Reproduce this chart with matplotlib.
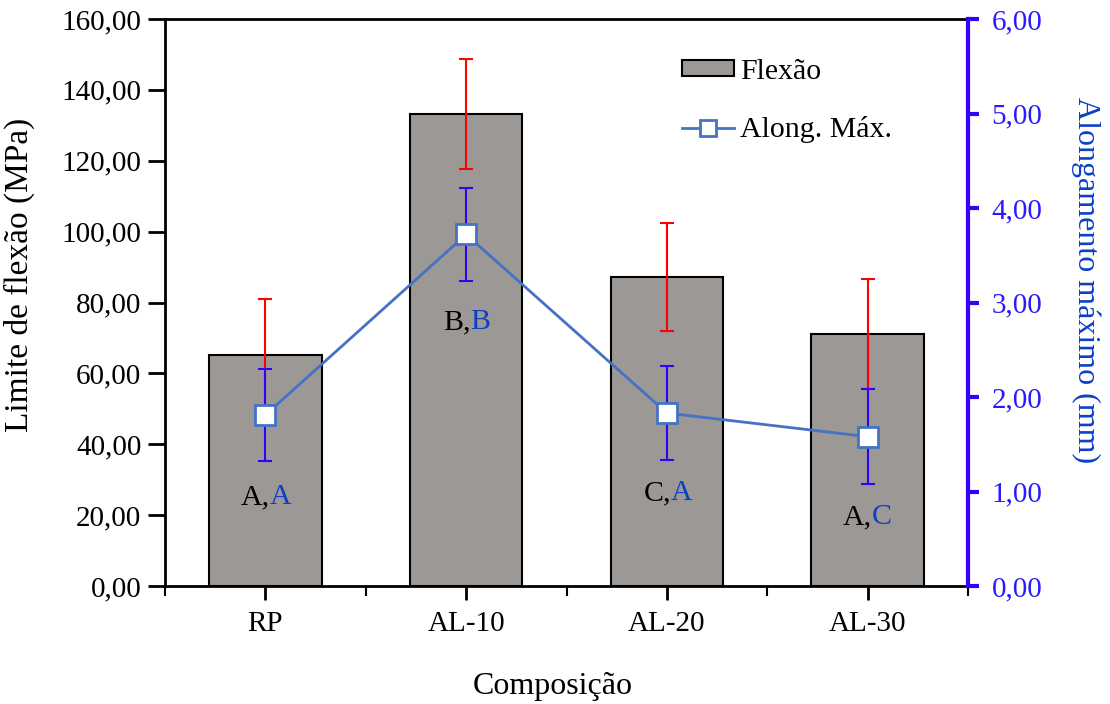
import matplotlib
matplotlib.use("Agg")
import matplotlib.pyplot as plt
from matplotlib.ticker import FuncFormatter, MultipleLocator, FixedLocator
from matplotlib.patches import Patch
from matplotlib.lines import Line2D

plt.rcParams['font.family'] = ['Liberation Serif', 'DejaVu Serif']

categories = ["RP", "AL-10", "AL-20", "AL-30"]
flexao = [65.2, 133.2, 87.2, 71.1]
flexao_err = [15.8, 15.5, 15.2, 15.4]
along = [1.81, 3.72, 1.83, 1.58]
along_err = [0.49, 0.49, 0.50, 0.50]
letters_flex = ["A,", "B,", "C,", "A,"]
letters_along = ["A", "B", "A", "C"]
label_y = [25.1, 74.5, 26.2, 19.5]

BAR = '#9c9896'
LINE = '#4472C4'
BLUE_AX = '#3300ff'
BLUE_TXT = '#2a1aff'
LET_BLUE = '#0a3fc8'
FS_TICK = 21
FS_LEG = 21.5
FS_LAB = 23

fig = plt.figure(figsize=(11.1, 7.04), dpi=100)
ax = fig.add_axes([165/1110, 1-586/704, (968-165)/1110, (586-19)/704])
x = list(range(len(categories)))

ax.bar(x, flexao, width=0.56, color=BAR, edgecolor='black', linewidth=1.5, zorder=2)
ax.errorbar(x, flexao, yerr=flexao_err, fmt='none', ecolor='#ff0000',
            elinewidth=1.5, capsize=5, capthick=1.5, zorder=3)
ax.set_xlim(-0.5, 3.5)
ax.set_ylim(0, 160)
ax.yaxis.set_major_locator(MultipleLocator(20))
fmt2 = FuncFormatter(lambda v, p: f"{v:.2f}".replace('.', ','))
ax.yaxis.set_major_formatter(fmt2)
ax.set_xticks(x)
ax.set_xticklabels(categories, fontsize=FS_TICK)
ax.xaxis.set_minor_locator(FixedLocator([-0.5, 0.5, 1.5, 2.5, 3.5]))
ax.tick_params(axis='x', which='major', direction='inout', length=20, width=2, pad=8)
ax.tick_params(axis='x', which='minor', direction='out', length=7, width=1.5)
ax.tick_params(axis='y', which='major', direction='out', length=12, width=2,
               labelsize=FS_TICK, pad=5)
ax.set_ylabel("Limite de flexão (MPa)", fontsize=FS_LAB + 1)
ax.yaxis.set_label_coords(-0.162, 0.548)
ax.set_xlabel("Composição", fontsize=FS_LAB)
ax.xaxis.set_label_coords(0.483, -0.152)
for s in ['left', 'bottom', 'top']:
    ax.spines[s].set_linewidth(2)
ax.spines['right'].set_visible(False)

for xi, yv, a, b in zip(x, label_y, letters_flex, letters_along):
    ax.annotate(a, (xi, yv), xytext=(3, 0), textcoords='offset points',
                ha='right', va='center', fontsize=FS_LEG, color='black', zorder=5)
    ax.annotate(b, (xi, yv), xytext=(3, 0), textcoords='offset points',
                ha='left', va='center', fontsize=FS_LEG, color=LET_BLUE, zorder=5)

ax2 = ax.twinx()
ax2.errorbar(x, along, yerr=along_err, fmt='none', ecolor=BLUE_AX,
             elinewidth=1.5, capsize=5, capthick=1.5, zorder=3)
ax2.plot(x, along, color=LINE, linewidth=2, marker='s', markersize=14,
         markerfacecolor='white', markeredgecolor=LINE, markeredgewidth=2, zorder=4)
ax2.set_ylim(0, 6)
ax2.yaxis.set_major_locator(MultipleLocator(1))
ax2.yaxis.set_major_formatter(fmt2)
ax2.tick_params(axis='y', direction='out', length=8, width=3, colors=BLUE_AX,
                labelcolor=BLUE_TXT, labelsize=FS_TICK, pad=9)
ax2.spines['right'].set_color(BLUE_AX)
ax2.spines['right'].set_linewidth(3)
for s in ['left', 'bottom', 'top']:
    ax2.spines[s].set_visible(False)
ax2.set_ylabel("Alongamento máximo (mm)", fontsize=FS_LAB, color=LET_BLUE,
               rotation=270)
ax2.yaxis.set_label_coords(1.165, 0.54)

handles = [Patch(facecolor=BAR, edgecolor='black', linewidth=1.5),
           Line2D([], [], color=LINE, linewidth=2, marker='s', markersize=11,
                  markerfacecolor='white', markeredgecolor=LINE, markeredgewidth=2)]
ax2.legend(handles, ["Flexão", "Along. Máx."], loc='upper left',
           bbox_to_anchor=(0.644, 0.93), frameon=False, fontsize=FS_LEG,
           handlelength=1.75, handleheight=0.45, handletextpad=0.2,
           labelspacing=1.05, borderpad=0, borderaxespad=0)

fig.savefig("out.png", dpi=100)
